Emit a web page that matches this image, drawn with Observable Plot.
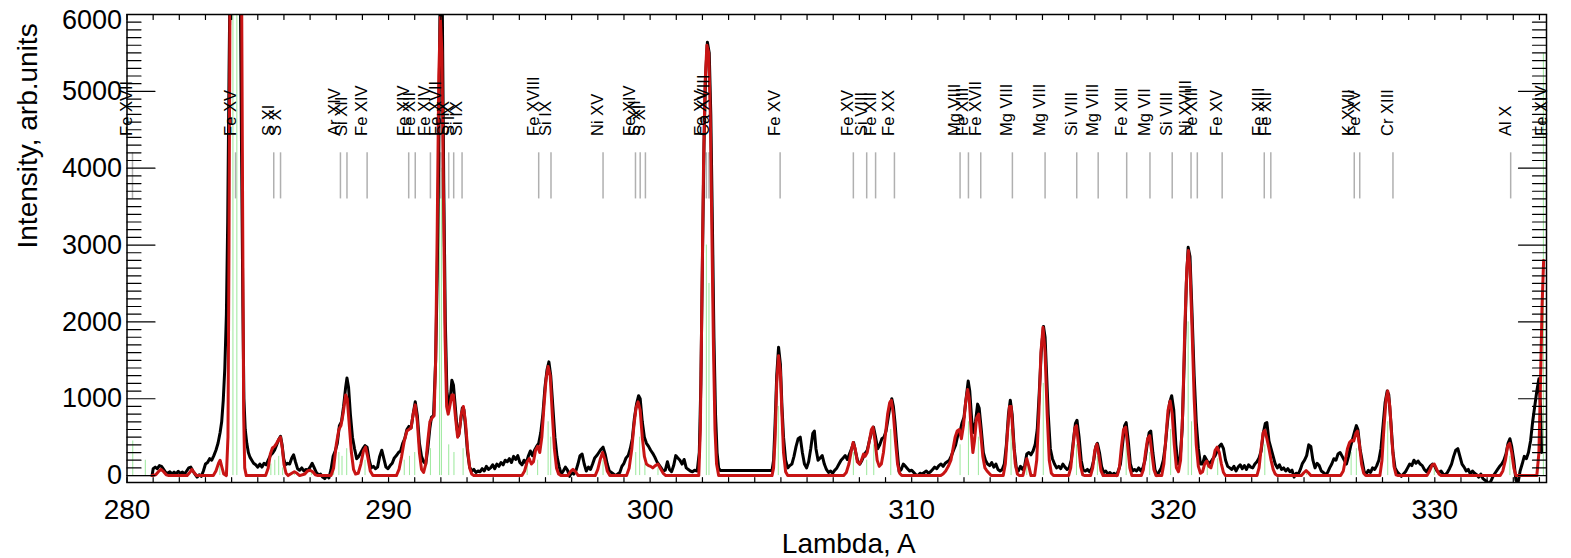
<!DOCTYPE html>
<html><head><meta charset="utf-8">
<script src="https://cdn.jsdelivr.net/npm/d3@7"></script>
<script src="https://cdn.jsdelivr.net/npm/@observablehq/plot@0.6"></script>
<style>body{margin:0;background:#fff}</style>
</head><body><div id="chart"></div>
<script>
// Observed spectrum [lambda (A), intensity]
const obsSpectrum = [
[280.96,0],[281.0,90],[281.08,110],[281.16,90],[281.24,130],[281.32,120],[281.40,80],[281.48,40],[281.56,30],[281.64,50],[281.72,20],[281.80,45],[281.88,25],[281.96,55],[282.04,30],[282.12,45],[282.20,20],[282.28,60],[282.36,100],[282.44,110],[282.52,60],[282.60,20],[282.68,-20],[282.76,10],[282.84,-10],[282.92,60],[283.00,150],[283.08,170],[283.16,220],[283.24,200],[283.32,260],[283.40,330],[283.48,420],[283.56,560],[283.62,700],[283.68,980],[283.74,1400],[283.80,2100],[283.85,3300],[283.90,5200],[283.94,6500],[284.33,6500],[284.38,4200],[284.43,2200],[284.47,1000],[284.52,600],[284.58,420],[284.64,300],[284.70,240],[284.77,200],[284.84,160],[284.92,140],[285.00,110],[285.08,150],[285.16,110],[285.24,160],[285.32,140],[285.40,200],[285.48,260],[285.56,290],[285.64,330],[285.72,400],[285.80,470],[285.87,510],[285.93,400],[285.99,220],[286.06,140],[286.14,160],[286.22,150],[286.30,230],[286.37,270],[286.44,180],[286.52,90],[286.60,70],[286.68,100],[286.76,60],[286.84,80],[286.92,70],[287.00,110],[287.08,160],[287.16,100],[287.24,40],[287.32,10],[287.40,20],[287.48,-20],[287.56,-40],[287.64,0],[287.72,-30],[287.80,80],[287.88,250],[287.96,320],[288.04,420],[288.12,650],[288.20,700],[288.28,900],[288.36,1150],[288.41,1270],[288.47,1150],[288.54,800],[288.62,500],[288.70,350],[288.78,220],[288.86,250],[288.94,300],[289.02,350],[289.10,390],[289.18,370],[289.26,200],[289.34,100],[289.42,120],[289.50,90],[289.58,110],[289.66,250],[289.74,330],[289.82,220],[289.90,110],[289.98,90],[290.06,130],[290.14,160],[290.22,230],[290.30,260],[290.38,300],[290.46,320],[290.54,420],[290.62,480],[290.70,600],[290.78,640],[290.86,620],[290.94,800],[291.02,960],[291.10,780],[291.18,420],[291.26,250],[291.34,180],[291.42,150],[291.50,350],[291.58,620],[291.64,760],[291.72,780],[291.80,1500],[291.86,2600],[291.92,4200],[291.97,6300],[292.05,6300],[292.11,3800],[292.17,2000],[292.23,1100],[292.30,900],[292.36,1000],[292.42,1240],[292.48,1180],[292.55,900],[292.62,600],[292.68,520],[292.75,700],[292.82,880],[292.88,860],[292.95,600],[293.02,300],[293.10,110],[293.18,60],[293.26,80],[293.34,40],[293.42,60],[293.50,50],[293.58,90],[293.66,60],[293.74,120],[293.82,80],[293.90,100],[293.98,140],[294.06,90],[294.14,150],[294.22,120],[294.30,170],[294.38,140],[294.46,200],[294.54,180],[294.62,220],[294.70,170],[294.78,250],[294.86,210],[294.94,260],[295.02,170],[295.10,140],[295.18,200],[295.26,160],[295.34,250],[295.42,320],[295.50,260],[295.58,330],[295.66,380],[295.74,420],[295.82,560],[295.90,800],[295.98,1150],[296.06,1380],[296.13,1480],[296.20,1300],[296.28,900],[296.36,500],[296.44,250],[296.52,120],[296.60,20],[296.68,60],[296.76,110],[296.84,70],[296.92,-10],[297.00,40],[297.08,20],[297.16,60],[297.24,150],[297.32,260],[297.40,280],[297.48,150],[297.56,60],[297.64,110],[297.72,80],[297.80,150],[297.88,230],[297.96,260],[298.04,300],[298.12,340],[298.20,370],[298.28,280],[298.36,150],[298.44,60],[298.52,40],[298.60,20],[298.68,0],[298.76,20],[298.84,40],[298.92,120],[299.00,160],[299.08,230],[299.16,260],[299.24,350],[299.32,480],[299.40,750],[299.48,930],[299.56,1040],[299.62,1000],[299.70,700],[299.78,500],[299.86,420],[299.94,380],[300.02,330],[300.10,290],[300.18,240],[300.26,180],[300.34,140],[300.42,100],[300.50,60],[300.58,70],[300.66,180],[300.74,80],[300.82,50],[300.90,130],[300.98,260],[301.06,230],[301.14,200],[301.22,150],[301.30,210],[301.38,100],[301.46,80],[301.54,60],[301.62,50],[301.70,70],[301.80,60],[301.88,300],[301.94,1200],[302.00,2800],[302.06,4300],[302.12,5200],[302.19,5640],[302.26,5500],[302.32,4700],[302.38,3300],[302.44,1800],[302.50,800],[302.56,300],[302.62,100],[302.68,65],[304.66,65],[304.72,200],[304.78,700],[304.84,1300],[304.91,1670],[304.98,1450],[305.04,900],[305.10,500],[305.18,200],[305.26,100],[305.34,130],[305.42,150],[305.50,250],[305.58,380],[305.66,480],[305.74,500],[305.82,300],[305.90,150],[305.98,100],[306.06,180],[306.14,350],[306.22,550],[306.28,580],[306.34,350],[306.42,200],[306.50,230],[306.58,260],[306.66,150],[306.74,80],[306.82,40],[306.90,60],[306.98,30],[307.06,70],[307.14,100],[307.22,150],[307.30,200],[307.38,230],[307.46,260],[307.54,210],[307.62,280],[307.70,350],[307.78,430],[307.86,300],[307.94,180],[308.02,150],[308.10,200],[308.20,280],[308.30,330],[308.38,450],[308.46,560],[308.54,630],[308.62,500],[308.70,350],[308.78,400],[308.86,480],[308.94,500],[309.02,580],[309.10,750],[309.18,920],[309.24,1000],[309.30,900],[309.36,700],[309.44,350],[309.52,50],[309.60,80],[309.68,150],[309.76,120],[309.84,90],[309.92,60],[310.00,70],[310.08,40],[310.16,10],[310.24,0],[310.32,30],[310.40,20],[310.48,40],[310.56,60],[310.64,30],[310.72,50],[310.80,80],[310.88,110],[310.96,90],[311.04,130],[311.12,150],[311.20,120],[311.28,160],[311.36,180],[311.44,200],[311.52,260],[311.60,330],[311.68,400],[311.76,520],[311.84,560],[311.92,680],[312.00,760],[312.08,1000],[312.16,1230],[312.22,1100],[312.30,700],[312.36,560],[312.44,700],[312.52,930],[312.58,880],[312.66,600],[312.74,300],[312.82,200],[312.90,150],[312.98,130],[313.06,170],[313.14,110],[313.22,150],[313.30,80],[313.38,60],[313.46,80],[313.54,150],[313.62,400],[313.70,800],[313.77,980],[313.84,800],[313.92,350],[314.00,100],[314.08,60],[314.16,120],[314.24,80],[314.32,130],[314.40,280],[314.48,300],[314.56,270],[314.64,320],[314.72,400],[314.80,600],[314.88,1100],[314.96,1650],[315.04,1940],[315.10,1800],[315.16,1300],[315.22,800],[315.30,350],[315.38,220],[315.46,150],[315.54,100],[315.62,120],[315.70,90],[315.78,150],[315.86,110],[315.94,80],[316.02,100],[316.10,200],[316.18,450],[316.26,680],[316.32,720],[316.40,500],[316.48,200],[316.56,70],[316.64,60],[316.72,80],[316.80,50],[316.88,90],[316.96,200],[317.04,380],[317.10,420],[317.18,300],[317.26,120],[317.34,40],[317.42,60],[317.50,20],[317.58,40],[317.66,10],[317.74,30],[317.82,0],[317.90,60],[317.98,150],[318.06,400],[318.14,650],[318.20,690],[318.28,450],[318.36,150],[318.44,60],[318.52,80],[318.60,60],[318.68,100],[318.76,60],[318.84,100],[318.92,200],[319.00,400],[319.08,560],[319.14,580],[319.22,300],[319.30,80],[319.38,0],[319.46,50],[319.54,100],[319.62,200],[319.70,400],[319.78,700],[319.86,950],[319.94,1040],[320.02,850],[320.10,400],[320.18,150],[320.26,200],[320.34,600],[320.42,1500],[320.50,2500],[320.57,2970],[320.64,2850],[320.72,2100],[320.80,1300],[320.88,700],[320.96,350],[321.04,150],[321.12,150],[321.20,250],[321.28,200],[321.36,150],[321.44,180],[321.52,220],[321.60,260],[321.68,320],[321.76,380],[321.84,410],[321.92,350],[322.00,200],[322.08,120],[322.16,100],[322.24,80],[322.32,120],[322.40,60],[322.48,110],[322.56,140],[322.64,90],[322.72,130],[322.80,80],[322.88,140],[322.96,110],[323.04,100],[323.12,150],[323.20,180],[323.28,230],[323.36,320],[323.44,550],[323.52,680],[323.58,690],[323.66,450],[323.74,350],[323.82,250],[323.90,150],[323.98,100],[324.06,140],[324.14,80],[324.22,100],[324.30,60],[324.38,90],[324.46,50],[324.54,70],[324.62,-20],[324.70,30],[324.78,20],[324.86,80],[324.94,160],[325.02,200],[325.10,260],[325.18,400],[325.26,380],[325.34,200],[325.42,100],[325.50,160],[325.58,130],[325.66,60],[325.74,40],[325.82,10],[325.90,40],[325.98,100],[326.06,150],[326.14,220],[326.22,200],[326.30,280],[326.38,300],[326.46,250],[326.54,200],[326.62,150],[326.70,250],[326.78,380],[326.86,480],[326.94,580],[327.00,650],[327.06,600],[327.14,350],[327.22,200],[327.30,50],[327.38,20],[327.46,70],[327.54,40],[327.62,100],[327.70,80],[327.78,130],[327.86,200],[327.94,350],[328.02,650],[328.10,950],[328.18,1100],[328.24,1050],[328.32,700],[328.40,300],[328.48,100],[328.56,50],[328.64,20],[328.72,-10],[328.80,20],[328.88,50],[328.96,100],[329.04,150],[329.12,130],[329.20,200],[329.28,160],[329.36,190],[329.44,150],[329.52,130],[329.60,80],[329.68,50],[329.76,90],[329.84,130],[329.92,150],[330.00,120],[330.08,60],[330.16,40],[330.24,60],[330.32,20],[330.40,10],[330.48,40],[330.56,90],[330.64,150],[330.72,250],[330.80,330],[330.88,350],[330.96,250],[331.04,150],[331.12,110],[331.20,60],[331.28,80],[331.36,20],[331.44,60],[331.52,30],[331.60,10],[331.68,-20],[331.76,20],[331.84,-40],[331.92,-60],[332.00,-80],[332.08,-110],[332.16,-60],[332.24,0],[332.32,40],[332.40,80],[332.48,120],[332.56,150],[332.64,200],[332.72,280],[332.80,420],[332.87,480],[332.94,380],[333.02,200],[333.10,-60],[333.18,-100],[333.26,60],[333.34,150],[333.42,250],[333.50,220],[333.58,300],[333.66,450],[333.74,700],[333.82,900],[333.90,1100],[333.98,1260],[334.04,900],[334.08,300]
];
// Fitted spectrum [lambda (A), intensity]
const fitSpectrum = [
[280.96,0],[281.10,10],[281.20,50],[281.30,80],[281.40,50],[281.50,10],[281.60,0],[282.30,0],[282.40,40],[282.48,80],[282.56,40],[282.66,0],[283.30,0],[283.40,60],[283.50,160],[283.56,200],[283.62,120],[283.70,20],[283.80,0],[283.86,500],[283.90,3000],[283.94,6500],[284.38,6500],[284.42,3500],[284.46,800],[284.50,100],[284.56,0],[285.30,0],[285.40,100],[285.48,280],[285.56,360],[285.64,380],[285.72,420],[285.80,470],[285.87,500],[285.94,350],[286.00,150],[286.08,30],[286.16,0],[286.30,30],[286.40,50],[286.50,30],[286.60,0],[286.80,20],[286.90,60],[287.00,70],[287.10,50],[287.20,10],[287.30,0],[287.80,0],[287.90,100],[288.00,400],[288.10,600],[288.18,650],[288.26,800],[288.36,1050],[288.42,1000],[288.50,650],[288.58,300],[288.66,80],[288.74,20],[288.84,30],[288.94,150],[289.04,320],[289.12,370],[289.20,250],[289.30,60],[289.40,0],[290.30,0],[290.40,80],[290.50,250],[290.60,450],[290.70,580],[290.78,600],[290.86,620],[290.94,800],[291.02,920],[291.10,700],[291.18,300],[291.26,80],[291.34,40],[291.42,150],[291.50,450],[291.58,700],[291.66,750],[291.74,780],[291.80,1500],[291.86,3200],[291.92,5200],[291.98,5960],[292.04,5500],[292.10,3600],[292.16,1800],[292.22,900],[292.28,800],[292.34,900],[292.42,1050],[292.48,1050],[292.56,750],[292.64,500],[292.70,550],[292.78,800],[292.86,900],[292.94,700],[293.02,350],[293.10,100],[293.18,20],[293.26,0],[295.10,0],[295.20,60],[295.30,180],[295.38,220],[295.46,150],[295.54,180],[295.62,330],[295.70,380],[295.78,300],[295.86,500],[295.94,900],[296.02,1250],[296.10,1420],[296.18,1300],[296.26,800],[296.34,350],[296.42,100],[296.50,20],[296.60,0],[296.85,0],[296.95,50],[297.05,80],[297.15,50],[297.25,0],[297.90,0],[298.00,80],[298.10,220],[298.18,300],[298.26,220],[298.36,60],[298.46,0],[299.10,0],[299.20,100],[299.30,350],[299.38,650],[299.46,880],[299.54,960],[299.62,850],[299.70,500],[299.78,250],[299.86,150],[299.94,130],[300.02,120],[300.10,100],[300.20,130],[300.30,150],[300.40,90],[300.50,30],[300.60,0],[301.86,0],[301.92,600],[301.98,2300],[302.04,4000],[302.10,5100],[302.17,5600],[302.24,5500],[302.30,4700],[302.36,3200],[302.42,1700],[302.48,600],[302.54,150],[302.62,0],[304.66,0],[304.72,100],[304.78,500],[304.84,1200],[304.91,1560],[304.98,1350],[305.04,800],[305.10,300],[305.18,50],[305.26,0],[307.40,0],[307.50,40],[307.60,150],[307.68,300],[307.76,430],[307.84,350],[307.92,180],[308.00,150],[308.08,200],[308.16,280],[308.22,250],[308.30,300],[308.38,450],[308.46,600],[308.52,630],[308.60,450],[308.68,200],[308.76,120],[308.84,150],[308.92,300],[309.00,550],[309.08,800],[309.16,950],[309.22,980],[309.30,800],[309.38,450],[309.46,150],[309.54,30],[309.62,0],[311.10,0],[311.20,20],[311.30,60],[311.40,120],[311.50,200],[311.58,350],[311.66,500],[311.74,580],[311.82,600],[311.90,480],[311.98,650],[312.06,950],[312.14,1120],[312.20,1000],[312.28,550],[312.34,300],[312.40,450],[312.48,750],[312.56,800],[312.64,550],[312.72,250],[312.80,100],[312.88,60],[312.96,30],[313.04,0],[313.50,0],[313.58,150],[313.66,550],[313.74,900],[313.80,900],[313.88,500],[313.96,150],[314.04,20],[314.12,0],[314.25,0],[314.32,100],[314.40,220],[314.48,120],[314.56,0],[314.70,0],[314.78,200],[314.86,800],[314.94,1600],[315.02,1930],[315.10,1600],[315.18,800],[315.26,200],[315.34,30],[315.42,0],[316.00,0],[316.08,100],[316.16,350],[316.24,620],[316.30,650],[316.38,400],[316.46,120],[316.54,10],[316.62,0],[316.84,0],[316.92,100],[317.00,330],[317.08,410],[317.16,250],[317.24,60],[317.32,0],[317.86,0],[317.94,100],[318.02,380],[318.10,600],[318.18,630],[318.26,380],[318.34,100],[318.42,0],[318.78,0],[318.86,80],[318.94,300],[319.02,480],[319.10,520],[319.18,300],[319.26,80],[319.34,0],[319.56,0],[319.64,150],[319.72,500],[319.80,850],[319.88,970],[319.96,800],[320.04,400],[320.12,100],[320.20,50],[320.28,200],[320.36,800],[320.44,1900],[320.52,2700],[320.58,2930],[320.64,2700],[320.72,1900],[320.80,1000],[320.88,400],[320.96,120],[321.04,30],[321.12,50],[321.20,150],[321.28,190],[321.36,120],[321.44,100],[321.52,200],[321.60,330],[321.68,370],[321.76,300],[321.84,150],[321.92,40],[322.00,0],[323.20,0],[323.28,100],[323.36,350],[323.44,560],[323.50,590],[323.58,480],[323.66,350],[323.74,200],[323.82,80],[323.90,20],[323.98,0],[324.90,0],[325.00,40],[325.08,65],[325.16,40],[325.26,0],[326.40,0],[326.50,60],[326.58,200],[326.66,350],[326.74,430],[326.82,460],[326.90,450],[326.98,550],[327.04,580],[327.12,400],[327.20,150],[327.28,30],[327.36,0],[327.90,0],[327.98,200],[328.06,650],[328.14,1000],[328.20,1100],[328.28,900],[328.36,450],[328.44,120],[328.52,10],[328.60,0],[329.70,0],[329.80,60],[329.90,140],[329.98,150],[330.06,90],[330.16,20],[330.24,0],[332.50,0],[332.60,60],[332.70,200],[332.78,380],[332.86,420],[332.94,300],[333.02,100],[333.10,0],[333.90,0],[333.98,300],[334.04,1200],[334.10,2200],[334.16,2800]
];
// Individual line intensities (green sticks)
const stickLam = [280.22,280.70,283.55,284.05,284.20,285.50,285.65,285.80,285.95,286.40,287.05,287.90,288.10,288.22,288.40,289.10,290.60,290.80,291.00,291.60,291.95,292.02,292.30,292.50,292.85,295.30,295.70,296.10,296.20,297.05,298.20,299.45,299.60,299.80,300.30,302.15,302.25,304.90,307.77,308.28,308.55,309.20,311.85,312.17,312.55,313.80,314.40,315.03,316.30,317.10,318.20,319.10,319.90,320.57,320.70,321.30,321.70,323.50,325.10,326.80,327.00,328.20,329.98,332.87,334.15];
const stickInt = [450,200,150,6500,6500,150,200,250,100,40,60,200,300,250,350,200,200,250,300,350,6500,4000,400,300,350,150,200,700,500,50,200,300,500,150,100,3000,2500,900,300,200,400,600,400,700,500,600,150,1200,400,250,400,300,600,2000,700,120,220,400,40,300,350,700,100,250,5500];
// Line identifications
const lineLam = [280.21,284.15,285.61,285.87,288.16,288.41,289.18,290.77,291.02,291.60,292.00,292.30,292.49,292.81,295.74,296.21,298.20,299.44,299.62,299.82,302.15,302.25,304.97,307.77,308.28,308.62,309.34,311.85,312.17,312.64,313.85,315.10,316.31,317.13,318.22,319.11,319.96,320.68,320.92,321.87,323.48,323.73,326.92,327.13,328.40,332.90,334.27];
const lineName = ["Fe XVII","Fe XV","S XI","S X","Ar XIV","Si XII","Fe XIV","Fe XIV","Fe XII","Fe XIV","Fe XVII","Si IX","S IX","Si IX","Fe XVIII","Si IX","Ni XV","Fe XIV","S XII","S XI","Fe XV","Ca XVIII","Fe XV","Fe XV","Si VIII","Fe XII","Fe XX","Mg VIII","Fe XIII","Fe XVII","Mg VIII","Mg VIII","Si VIII","Mg VIII","Fe XIII","Mg VII","Si VIII","Ni XVIII","Fe XIII","Fe XV","Fe XIII","Fe XII","K XVII","Fe XV","Cr XIII","Al X","Fe XIV"];
// Axis ticks
const xTickLabels = [280,290,300,310,320,330];
const xTickAll = d3.range(280,335,1);
const yTickLabels = [0,1000,2000,3000,4000,5000];
const yTopLabel = [6000];
const yMajor = [0,1000,2000,3000,4000,5000,6000];
const yMinor = d3.range(100,6000,100).filter(v => v % 1000 !== 0);

const xMin = 280, xMax = 334.27, yMin = -90, yMax = 6000;
const lines = lineLam.map((l,i)=>({lam:l, name:lineName[i]}));
const sticks = stickLam.map((l,i)=>({lam:l, h:stickInt[i]}));
const font = "Liberation Sans, Arial, Helvetica, sans-serif";
const tickOpt = {shape:"spike", r:0, fill:"none", stroke:"black", strokeWidth:1.2, anchor:"start"};

const chart = Plot.plot({
  width:1571, height:558,
  marginLeft:126.5, marginRight:25, marginTop:14, marginBottom:76,
  style:{fontFamily:font, background:"#fff", overflow:"visible"},
  x:{domain:[xMin,xMax]},
  y:{domain:[yMin,yMax]},
  marks:[
    Plot.ruleX(sticks, {x:"lam", y1:0, y2:"h", stroke:"#9be89b", strokeWidth:1, clip:true}),
    Plot.ruleX(lines, {x:"lam", y1:3600, y2:4200, stroke:"#b0b0b0", strokeWidth:1.5}),
    Plot.ruleY([0], {x1:xMin, x2:obsSpectrum[0][0], stroke:"black", strokeWidth:1}),
    Plot.line(obsSpectrum, {x:d=>d[0], y:d=>d[1], stroke:"black", strokeWidth:3, clip:true}),
    Plot.line(fitSpectrum, {x:d=>d[0], y:d=>d[1], stroke:"#c81414", strokeWidth:3, clip:true}),
    Plot.frame({stroke:"black", strokeWidth:1.5}),
    Plot.vector(yMajor, {...tickOpt, x:xMin, y:d=>d, length:28, rotate:90}),
    Plot.vector(yMinor, {...tickOpt, x:xMin, y:d=>d, length:14, rotate:90}),
    Plot.vector(yMajor, {...tickOpt, x:xMax, y:d=>d, length:28, rotate:-90}),
    Plot.vector(yMinor, {...tickOpt, x:xMax, y:d=>d, length:14, rotate:-90}),
    Plot.vector(xTickAll, {...tickOpt, x:d=>d, y:yMin, length:5, rotate:0}),
    Plot.vector(xTickAll, {...tickOpt, x:d=>d, y:yMax, length:5, rotate:180}),
    Plot.axisX({ticks:xTickLabels, tickSize:0, tickPadding:17, fontSize:28, label:null, tickFormat:d=>String(d)}),
    Plot.axisY({ticks:yTickLabels, tickSize:0, tickPadding:5, fontSize:27, label:null, tickFormat:d=>String(d)}),
    Plot.axisY({ticks:yTopLabel, tickSize:0, tickPadding:5, fontSize:27, label:null, dy:6, tickFormat:d=>String(d)}),
    Plot.text(lines, {x:"lam", y:4420, text:"name", rotate:-90, textAnchor:"start", lineAnchor:"bottom", fontSize:16.5, fill:"black"}),
    Plot.text(["Lambda, A"], {frameAnchor:"bottom", dx:12, dy:70, lineAnchor:"bottom", fontSize:28, fill:"black"}),
    Plot.text(["Intensity, arb.units"], {frameAnchor:"left", dx:-90, rotate:-90, lineAnchor:"bottom", fontSize:28, fill:"black"})
  ]
});
document.getElementById("chart").appendChild(chart);
</script></body></html>
